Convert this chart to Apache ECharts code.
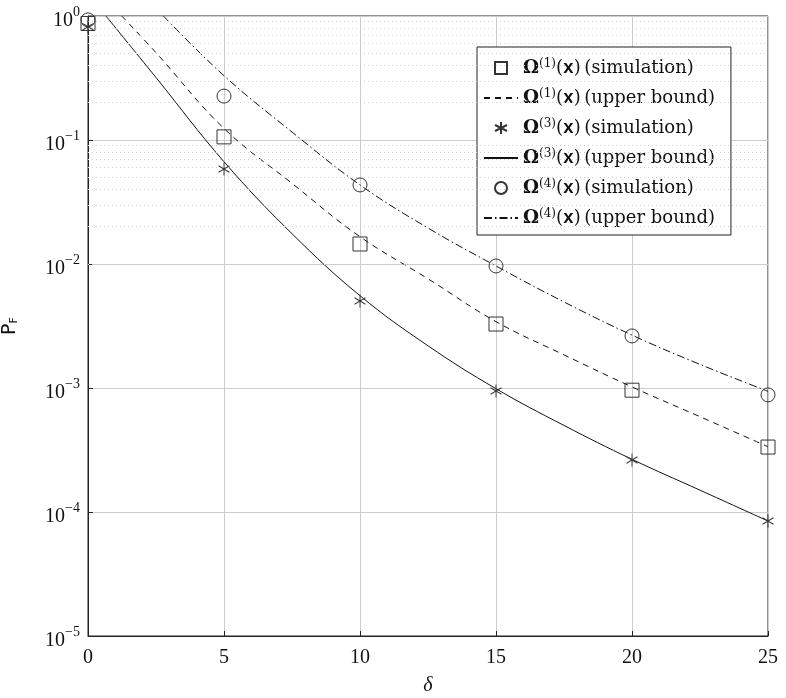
<!DOCTYPE html>
<html>
<head>
<meta charset="utf-8">
<script src="https://cdn.jsdelivr.net/npm/echarts@6/dist/echarts.min.js"></script>
<style>
  html, body { margin: 0; padding: 0; background: #fff; }
  #main { width: 786px; height: 698px; }
</style>
</head>
<body>
<div id="main"></div>
<script>
// simulation points
var deltaSim = [0, 5, 10, 15, 20, 25]
var sim1 = [0.87, 0.106, 0.0145, 0.00328, 0.00096, 0.000334]
var sim3 = [0.82, 0.0584, 0.00503, 0.000946, 0.000263, 0.0000846]
var sim4 = [0.93, 0.226, 0.0434, 0.00964, 0.00263, 0.00088]

// upper bound curves
var deltaUb1 = [1.24, 2.5, 5, 7.5, 10, 12.5, 15, 17.5, 20, 22.5, 25]
var ub1 = [1, 0.506, 0.124, 0.0447, 0.0166, 0.0076, 0.00343, 0.00185, 0.00102, 0.000587, 0.000336]
var deltaUb3 = [0.66, 2.5, 5, 7.5, 10, 12.5, 15, 17.5, 20, 22.5, 25]
var ub3 = [1, 0.319, 0.0668, 0.01755, 0.00555, 0.00219, 0.000987, 0.000499, 0.000266, 0.00015, 0.0000846]
var deltaUb4 = [2.77, 5, 7.5, 10, 12.5, 15, 17.5, 20, 22.5, 25]
var ub4 = [1, 0.33, 0.116, 0.0434, 0.0195, 0.00964, 0.00494, 0.00267, 0.00155, 0.00094]

var xTicks = [0, 5, 10, 15, 20, 25]
var yDecades = [1e-5, 1e-4, 1e-3, 1e-2, 1e-1, 1]

var seriesNames = ['sim1', 'ub1', 'sim3', 'ub3', 'sim4', 'ub4']
var legendLabels = {
  sim1: ['1', 'simulation'],
  ub1: ['1', 'upper bound'],
  sim3: ['3', 'simulation'],
  ub3: ['3', 'upper bound'],
  sim4: ['4', 'simulation'],
  ub4: ['4', 'upper bound']
}

function pairs(xs, ys) {
  return xs.map(function(x, i) { return [x, ys[i]] })
}

// dotted minor grid at 2..9 of each decade
var minorGrid = []
for (var d = 0; d < yDecades.length - 1; d++) {
  for (var k = 2; k <= 9; k++) {
    minorGrid.push({ yAxis: +(k * yDecades[d]).toPrecision(3) })
  }
}

var serif = 'Liberation Serif'
var wideSerif = 'DejaVu Serif'
var chart = echarts.init(document.getElementById('main'))

var markerStyle = {
  color: 'none',
  borderColor: '#333',
  borderWidth: 1
}
var hiddenLine = { width: 0, opacity: 0 }
var noMarker = { color: 'rgba(0,0,0,0)', borderWidth: 0, opacity: 0 }
var starPath = 'path://M0,-10L0,10M-8.66,-5L8.66,5M-8.66,5L8.66,-5'

var option = {
  animation: false,
  backgroundColor: '#fff',
  grid: {
    left: 88,
    right: 18,
    top: 16,
    bottom: 62,
    containLabel: false,
    outerBoundsMode: 'none',
    show: true,
    borderColor: '#222',
    borderWidth: 1
  },
  legend: {
    orient: 'vertical',
    left: 477,
    top: 47,
    data: seriesNames,
    itemWidth: 34,
    itemHeight: 15,
    itemGap: 11,
    padding: [11, 16, 8, 6],
    borderColor: '#222',
    borderWidth: 1,
    backgroundColor: '#fff',
    formatter: function(name) {
      var l = legendLabels[name]
      return '{o|Ω}{s|(' + l[0] + ')}{t|(}{x|x}{t|)} {t|(' + l[1] + ')}'
    },
    textStyle: {
      color: '#111',
      rich: {
        o: { fontFamily: wideSerif, fontWeight: 'bold', fontSize: 18, lineHeight: 20 },
        s: { fontFamily: wideSerif, fontSize: 12, lineHeight: 20, verticalAlign: 'top', padding: [0, 0, 6, 0] },
        t: { fontFamily: wideSerif, fontSize: 18, lineHeight: 20 },
        x: { fontFamily: 'Liberation Mono', fontWeight: 'bold', fontSize: 18, lineHeight: 20 }
      }
    }
  },
  xAxis: {
    type: 'value',
    min: 0,
    max: 25,
    interval: 5,
    name: 'δ',
    nameLocation: 'middle',
    nameGap: 40,
    nameTextStyle: { fontFamily: serif, fontStyle: 'italic', fontSize: 20, color: '#111' },
    axisLine: { lineStyle: { color: '#222' } },
    axisTick: { inside: true, length: 5, lineStyle: { color: '#222' } },
    axisLabel: {
      fontFamily: serif,
      fontSize: 20,
      color: '#111',
      margin: 12,
      formatter: function(v) { return xTicks.indexOf(v) >= 0 ? String(v) : '' }
    },
    splitLine: { show: true, lineStyle: { color: '#cccccc', width: 1 } }
  },
  yAxis: {
    type: 'log',
    logBase: 10,
    min: 1e-5,
    max: 1,
    name: '{p|P}{f|F}',
    nameLocation: 'middle',
    nameGap: 68,
    nameTextStyle: {
      color: '#111',
      rich: {
        p: { fontFamily: 'DejaVu Sans', fontSize: 19 },
        f: { fontFamily: 'DejaVu Sans', fontSize: 11, padding: [9, 0, 0, 0] }
      }
    },
    axisLine: { lineStyle: { color: '#222' } },
    axisTick: { inside: true, length: 5, lineStyle: { color: '#222' } },
    axisLabel: {
      margin: 8,
      formatter: function(v) {
        var e = Math.round(Math.log10(v))
        return '{b|10}{e|' + (e < 0 ? '−' + (-e) : e) + '}'
      },
      rich: {
        b: { fontFamily: serif, fontSize: 20, color: '#111', padding: [10, 0, 0, 0] },
        e: { fontFamily: serif, fontSize: 14, color: '#111', padding: [0, 0, 8, 0] }
      }
    },
    splitLine: { show: true, lineStyle: { color: '#cccccc', width: 1 } }
  },
  series: [
    {
      name: 'minor',
      type: 'line',
      data: [],
      silent: true,
      z: 1,
      markLine: {
        silent: true,
        symbol: ['none', 'none'],
        label: { show: false },
        lineStyle: { color: '#cfcfcf', type: [1, 3], width: 1 },
        data: minorGrid
      }
    },
    {
      name: 'sim1',
      type: 'line',
      data: pairs(deltaSim, sim1),
      symbol: 'rect',
      symbolSize: 14,
      lineStyle: hiddenLine,
      itemStyle: markerStyle,
      z: 5
    },
    {
      name: 'ub1',
      type: 'line',
      data: pairs(deltaUb1, ub1),
      symbol: 'none',
      smooth: 0.4,
      lineStyle: { color: '#111', width: 1, type: [6, 5] },
      itemStyle: noMarker,
      z: 3
    },
    {
      name: 'sim3',
      type: 'line',
      data: pairs(deltaSim, sim3),
      symbol: starPath,
      symbolSize: [11, 13],
      lineStyle: hiddenLine,
      itemStyle: markerStyle,
      z: 5
    },
    {
      name: 'ub3',
      type: 'line',
      data: pairs(deltaUb3, ub3),
      symbol: 'none',
      smooth: 0.4,
      lineStyle: { color: '#111', width: 1 },
      itemStyle: noMarker,
      z: 3
    },
    {
      name: 'sim4',
      type: 'line',
      data: pairs(deltaSim, sim4),
      symbol: 'circle',
      symbolSize: 14,
      lineStyle: hiddenLine,
      itemStyle: markerStyle,
      z: 5
    },
    {
      name: 'ub4',
      type: 'line',
      data: pairs(deltaUb4, ub4),
      symbol: 'none',
      smooth: 0.4,
      lineStyle: { color: '#111', width: 1, type: [8, 3, 1.5, 3] },
      itemStyle: noMarker,
      z: 3
    }
  ]
}

chart.setOption(option)
</script>
</body>
</html>
